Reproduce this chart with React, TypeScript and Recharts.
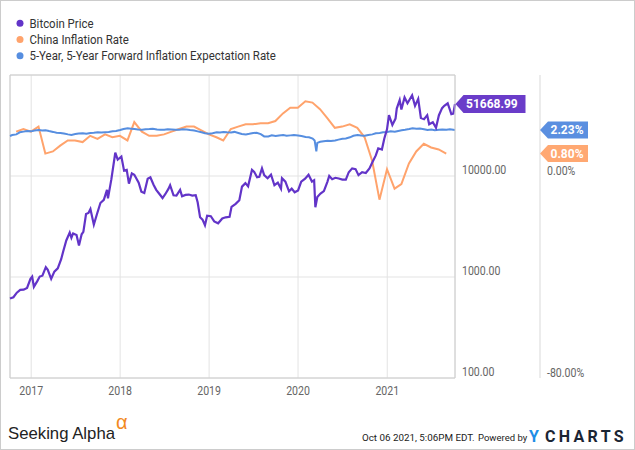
import React from 'react';
import { LineChart, Line, XAxis, YAxis, CartesianGrid, ReferenceLine } from 'recharts';

// Bitcoin price (USD), log scale
const btcPrices: [string, number][] = [
  ['2016-10-06', 612], ['2016-10-20', 630], ['2016-11-03', 700], ['2016-11-17', 745],
  ['2016-12-01', 750], ['2016-12-15', 780], ['2016-12-29', 960], ['2017-01-05', 1010],
  ['2017-01-12', 800], ['2017-01-26', 910], ['2017-02-05', 1010], ['2017-02-16', 1030],
  ['2017-03-02', 1250], ['2017-03-10', 1180], ['2017-03-24', 960], ['2017-04-06', 1130],
  ['2017-04-20', 1220], ['2017-05-04', 1500], ['2017-05-12', 1780], ['2017-05-25', 2300],
  ['2017-06-08', 2750], ['2017-06-15', 2450], ['2017-06-22', 2700], ['2017-07-06', 2600],
  ['2017-07-16', 2050], ['2017-07-27', 2650], ['2017-08-03', 2800], ['2017-08-14', 4200],
  ['2017-08-24', 4300], ['2017-09-01', 4700], ['2017-09-15', 3300], ['2017-09-28', 4200],
  ['2017-10-12', 5400], ['2017-10-26', 5800], ['2017-11-08', 7300], ['2017-11-12', 6000],
  ['2017-11-26', 9300], ['2017-12-12', 17000], ['2017-12-22', 14500], ['2018-01-06', 15600],
  ['2018-01-17', 11300], ['2018-01-28', 11500], ['2018-02-06', 8400], ['2018-02-18', 10600],
  ['2018-02-28', 10300], ['2018-03-08', 9500], ['2018-03-18', 8600], ['2018-03-29', 7000],
  ['2018-04-10', 6800], ['2018-04-24', 9400], ['2018-05-05', 9700], ['2018-05-18', 8200],
  ['2018-05-29', 7300], ['2018-06-12', 6600], ['2018-06-24', 6050], ['2018-07-05', 6600],
  ['2018-07-18', 7450], ['2018-07-25', 8100], ['2018-08-08', 6450], ['2018-08-20', 6400],
  ['2018-09-04', 7300], ['2018-09-12', 6300], ['2018-09-26', 6500], ['2018-10-10', 6550],
  ['2018-10-24', 6400], ['2018-11-07', 6450], ['2018-11-15', 5500], ['2018-11-25', 3900],
  ['2018-12-05', 3700], ['2018-12-15', 3250], ['2018-12-24', 4050], ['2019-01-08', 4000],
  ['2019-01-22', 3550], ['2019-02-07', 3400], ['2019-02-24', 3800], ['2019-03-10', 3900],
  ['2019-03-26', 3950], ['2019-04-03', 4950], ['2019-04-20', 5300], ['2019-05-05', 5750],
  ['2019-05-16', 7850], ['2019-05-30', 8500], ['2019-06-10', 7900], ['2019-06-26', 11500],
  ['2019-07-05', 11000], ['2019-07-17', 9700], ['2019-07-26', 9800], ['2019-08-06', 11900],
  ['2019-08-15', 10200], ['2019-08-29', 9500], ['2019-09-12', 10300], ['2019-09-26', 8100],
  ['2019-10-10', 8600], ['2019-10-23', 7500], ['2019-10-27', 9500], ['2019-11-10', 8800],
  ['2019-11-25', 7050], ['2019-12-06', 7500], ['2019-12-18', 6900], ['2020-01-01', 7200],
  ['2020-01-14', 8800], ['2020-01-30', 9400], ['2020-02-13', 10300], ['2020-02-27', 8800],
  ['2020-03-07', 9100], ['2020-03-12', 4900], ['2020-03-20', 6200], ['2020-04-02', 6700],
  ['2020-04-16', 7100], ['2020-04-30', 8700], ['2020-05-08', 10000], ['2020-05-20', 9300],
  ['2020-06-02', 9600], ['2020-06-16', 9450], ['2020-07-01', 9200], ['2020-07-15', 9200],
  ['2020-07-27', 10900], ['2020-08-10', 11900], ['2020-08-24', 11700], ['2020-09-05', 10200],
  ['2020-09-20', 10900], ['2020-10-05', 10700], ['2020-10-20', 11900], ['2020-11-01', 13700],
  ['2020-11-15', 16000], ['2020-11-25', 18800], ['2020-12-10', 18300], ['2020-12-20', 23500],
  ['2020-12-31', 29000], ['2021-01-08', 40000], ['2021-01-22', 32000], ['2021-02-04', 37000],
  ['2021-02-09', 46500], ['2021-02-21', 56500], ['2021-02-28', 45500], ['2021-03-13', 60000],
  ['2021-03-25', 52500], ['2021-04-13', 63000], ['2021-04-25', 49500], ['2021-05-08', 58000],
  ['2021-05-19', 37500], ['2021-06-01', 36500], ['2021-06-14', 40000], ['2021-06-22', 32500],
  ['2021-07-07', 34000], ['2021-07-20', 30000], ['2021-08-01', 40000], ['2021-08-14', 47000],
  ['2021-08-23', 49500], ['2021-09-06', 52500], ['2021-09-21', 41000], ['2021-09-29', 41500],
  ['2021-10-06', 51668.99],
];

// China CPI inflation, % YoY, month end
const chinaRates: [string, number][] = [
  ['2016-10-31', 2.1], ['2016-11-30', 2.3], ['2016-12-31', 2.1],
  ['2017-01-31', 2.5], ['2017-02-28', 0.8], ['2017-03-31', 0.9], ['2017-04-30', 1.2],
  ['2017-05-31', 1.5], ['2017-06-30', 1.5], ['2017-07-31', 1.4], ['2017-08-31', 1.8],
  ['2017-09-30', 1.6], ['2017-10-31', 1.9], ['2017-11-30', 1.7], ['2017-12-31', 1.8],
  ['2018-01-31', 1.5], ['2018-02-28', 2.9], ['2018-03-31', 2.1], ['2018-04-30', 1.8],
  ['2018-05-31', 1.8], ['2018-06-30', 1.9], ['2018-07-31', 2.1], ['2018-08-31', 2.3],
  ['2018-09-30', 2.5], ['2018-10-31', 2.5], ['2018-11-30', 2.2], ['2018-12-31', 1.9],
  ['2019-01-31', 1.7], ['2019-02-28', 1.5], ['2019-03-31', 2.3], ['2019-04-30', 2.5],
  ['2019-05-31', 2.7], ['2019-06-30', 2.7], ['2019-07-31', 2.8], ['2019-08-31', 2.8],
  ['2019-09-30', 3.0], ['2019-10-31', 3.8], ['2019-11-30', 4.5], ['2019-12-31', 4.5],
  ['2020-01-31', 5.4], ['2020-02-29', 5.2], ['2020-03-31', 4.3], ['2020-04-30', 3.3],
  ['2020-05-31', 2.4], ['2020-06-30', 2.5], ['2020-07-31', 2.7], ['2020-08-31', 2.4],
  ['2020-09-30', 1.7], ['2020-10-31', 0.5], ['2020-11-30', -0.5], ['2020-12-31', 0.2],
  ['2021-01-31', -0.3], ['2021-02-28', -0.2], ['2021-03-31', 0.4], ['2021-04-30', 0.9],
  ['2021-05-31', 1.3], ['2021-06-30', 1.1], ['2021-07-31', 1.0], ['2021-08-31', 0.8],
];

// 5-Year, 5-Year Forward Inflation Expectation Rate, %
const fwdRates: [string, number][] = [
  ['2016-10-06', 1.79], ['2016-10-15', 1.85], ['2016-11-01', 1.9], ['2016-11-15', 2.05],
  ['2016-12-01', 2.1], ['2016-12-15', 2.15], ['2017-01-01', 2.12], ['2017-01-15', 2.18],
  ['2017-02-01', 2.22], ['2017-02-15', 2.18], ['2017-03-01', 2.2], ['2017-03-15', 2.14],
  ['2017-04-01', 2.08], ['2017-04-15', 2.02], ['2017-05-01', 2.0], ['2017-05-15', 1.96],
  ['2017-06-01', 1.9], ['2017-06-15', 1.86], ['2017-07-01', 1.92], ['2017-07-15', 1.96],
  ['2017-08-01', 1.98], ['2017-08-15', 1.95], ['2017-09-01', 2.0], ['2017-09-15', 2.02],
  ['2017-10-01', 2.05], ['2017-10-15', 2.03], ['2017-11-01', 2.06], ['2017-11-15', 2.08],
  ['2017-12-01', 2.12], ['2017-12-15', 2.15], ['2018-01-01', 2.22], ['2018-01-15', 2.3],
  ['2018-02-01', 2.36], ['2018-02-15', 2.33], ['2018-03-01', 2.3], ['2018-03-15', 2.27],
  ['2018-04-01', 2.25], ['2018-04-15', 2.28], ['2018-05-01', 2.3], ['2018-05-15', 2.33],
  ['2018-06-01', 2.27], ['2018-06-15', 2.25], ['2018-07-01', 2.24], ['2018-07-15', 2.28],
  ['2018-08-01', 2.27], ['2018-08-15', 2.24], ['2018-09-01', 2.25], ['2018-09-15', 2.28],
  ['2018-10-01', 2.27], ['2018-10-15', 2.22], ['2018-11-01', 2.18], ['2018-11-15', 2.12],
  ['2018-12-01', 2.05], ['2018-12-15', 1.98], ['2019-01-01', 1.95], ['2019-01-15', 1.98],
  ['2019-02-01', 2.05], ['2019-02-15', 2.03], ['2019-03-01', 2.08], ['2019-03-15', 2.05],
  ['2019-04-01', 2.03], ['2019-04-15', 2.08], ['2019-05-01', 2.0], ['2019-05-15', 1.93],
  ['2019-06-01', 1.9], ['2019-06-15', 1.94], ['2019-07-01', 2.0], ['2019-07-15', 2.02],
  ['2019-08-01', 1.92], ['2019-08-15', 1.76], ['2019-09-01', 1.75], ['2019-09-15', 1.83],
  ['2019-10-01', 1.78], ['2019-10-15', 1.82], ['2019-11-01', 1.85], ['2019-11-15', 1.8],
  ['2019-12-01', 1.83], ['2019-12-15', 1.85], ['2020-01-01', 1.82], ['2020-01-15', 1.78],
  ['2020-02-01', 1.72], ['2020-02-15', 1.7], ['2020-03-01', 1.62], ['2020-03-09', 1.5],
  ['2020-03-16', 0.9], ['2020-03-20', 1.35], ['2020-04-01', 1.42], ['2020-04-15', 1.45],
  ['2020-05-01', 1.48], ['2020-05-15', 1.46], ['2020-06-01', 1.5], ['2020-06-15', 1.55],
  ['2020-07-01', 1.6], ['2020-07-15', 1.62], ['2020-08-01', 1.7], ['2020-08-15', 1.8],
  ['2020-09-01', 1.85], ['2020-09-15', 1.82], ['2020-10-01', 1.8], ['2020-10-15', 1.86],
  ['2020-11-01', 1.9], ['2020-11-15', 1.98], ['2020-12-01', 2.0], ['2020-12-15', 2.05],
  ['2021-01-01', 2.08], ['2021-01-15', 2.12], ['2021-02-01', 2.1], ['2021-02-15', 2.15],
  ['2021-03-01', 2.2], ['2021-03-15', 2.24], ['2021-04-01', 2.3], ['2021-04-15', 2.36],
  ['2021-05-01', 2.33], ['2021-05-15', 2.35], ['2021-06-01', 2.28], ['2021-06-15', 2.22],
  ['2021-07-01', 2.26], ['2021-07-15', 2.2], ['2021-08-01', 2.24], ['2021-08-15', 2.27],
  ['2021-09-01', 2.25], ['2021-09-15', 2.28], ['2021-10-06', 2.23],
];

const yearTicks = ['2017', '2018', '2019', '2020', '2021'];
const btcTicks = [100, 1000, 10000];
const pctTickLabels = ['-80.00%', '0.00%'];

const seriesNames = ['Bitcoin Price', 'China Inflation Rate', '5-Year, 5-Year Forward Inflation Expectation Rate'];
const seriesColors = ['#6234c8', '#ffa36c', '#568ee0'];
const tagColors = ['#6a3cc9', '#ffa872', '#5a8fe0'];
const tagLabels = ['51668.99', '0.80%', '2.23%'];

const START = Date.parse('2016-10-06');
const END = Date.parse('2021-10-06');
// percent axis is log of (rate + shift)
const PCT_SHIFT = 1.2;
const pctTickValues = [PCT_SHIFT / 100, PCT_SHIFT];

const W = 635;
const H = 450;
const BTC_AXIS_W = 85;
const PCT_AXIS_W = 95;
const PLOT_RIGHT = W - BTC_AXIS_W - PCT_AXIS_W;
const COND = 0.88;
const FONT = 'Roboto, "Noto Sans", sans-serif';

const toRows = (pairs: [string, number][]) => pairs.map(([d, v]) => ({ t: Date.parse(d), v }));
const btcRows = toRows(btcPrices);
const chinaRows = toRows(chinaRates);
const fwdRows = toRows(fwdRates);

const CondText = ({ x, y, anchor = 'start', size = 12, fill = '#666', children }: any) => (
  <text
    transform={`translate(${x},${y}) scale(${COND},1)`}
    textAnchor={anchor}
    fontSize={size}
    fontFamily={FONT}
    fill={fill}
  >
    {children}
  </text>
);

const XTick = ({ x, y, payload }: any) => (
  <CondText x={x} y={y + 16.5} anchor="middle">
    {String(new Date(payload.value).getUTCFullYear())}
  </CondText>
);

const BtcTick = ({ x, y, payload }: any) => (
  <CondText x={x} y={y - 2}>{Number(payload.value).toFixed(2)}</CondText>
);

const PctTick = ({ x, y, payload, index }: any) => {
  let i = pctTickValues.indexOf(payload.value);
  if (i < 0) i = index;
  return <CondText x={x} y={y - 1}>{pctTickLabels[i]}</CondText>;
};

// draws the value tag next to the last point of a series
const tagDot = (label: string, color: string, lastIndex: number, tipX: number | null, boxW: number, h: number) =>
  (props: any) => {
    const { cx, cy, index } = props;
    if (index !== lastIndex) return <g key={`d-${index}`} />;
    const tip = tipX == null ? cx : tipX;
    const half = h / 2;
    const pts = [
      [tip, cy],
      [tip + 8, cy - half],
      [tip + 8 + boxW, cy - half],
      [tip + 8 + boxW, cy + half],
      [tip + 8, cy + half],
    ]
      .map((p) => p.join(','))
      .join(' ');
    return (
      <g key={`d-${index}`}>
        <polygon points={pts} fill={color} />
        <text x={tip + 10.5} y={cy + 4.3} fontSize={12} fontWeight={700} fontFamily={FONT} fill="#fff">
          {label}
        </text>
      </g>
    );
  };

export default function App() {
  return (
    <div style={{ position: 'absolute', left: 0, top: 0, width: W, height: H, background: '#fff' }}>
      <LineChart width={W} height={H} margin={{ top: 75, right: 0, bottom: 42, left: 10 }}>
        <CartesianGrid yAxisId="btc" stroke="#e3e3e3" />
        <XAxis
          type="number"
          dataKey="t"
          domain={[START, END]}
          ticks={yearTicks.map((y) => Date.parse(`${y}-01-01`))}
          interval={0}
          height={30}
          tickLine={false}
          tickSize={0}
          tickMargin={0}
          axisLine={{ stroke: '#cccccc' }}
          tick={XTick}
        />
        <YAxis
          yAxisId="btc"
          orientation="right"
          type="number"
          scale="log"
          domain={[100, 100000]}
          ticks={btcTicks}
          interval={0}
          width={BTC_AXIS_W}
          tickLine={false}
          tickSize={0}
          tickMargin={7}
          axisLine={{ stroke: '#cccccc' }}
          tick={BtcTick}
        />
        <YAxis
          yAxisId="pct"
          orientation="right"
          type="number"
          scale="log"
          domain={[PCT_SHIFT / 100, PCT_SHIFT * 10]}
          ticks={pctTickValues}
          interval={0}
          width={PCT_AXIS_W}
          tickLine={false}
          tickSize={0}
          tickMargin={7}
          axisLine={{ stroke: '#d9d9d9' }}
          tick={PctTick}
        />
        <ReferenceLine yAxisId="btc" x={START} stroke="#cccccc" />
        <ReferenceLine yAxisId="btc" y={100000} stroke="#cccccc" />
        <Line
          yAxisId="pct"
          data={chinaRows}
          dataKey={(d: any) => d.v + PCT_SHIFT}
          type="linear"
          stroke={seriesColors[1]}
          strokeWidth={2}
          dot={tagDot(tagLabels[1], tagColors[1], chinaRows.length - 1, PLOT_RIGHT + BTC_AXIS_W, 40, 17)}
          activeDot={false}
          isAnimationActive={false}
        />
        <Line
          yAxisId="pct"
          data={fwdRows}
          dataKey={(d: any) => d.v + PCT_SHIFT}
          type="linear"
          stroke={seriesColors[2]}
          strokeWidth={2}
          dot={tagDot(tagLabels[2], tagColors[2], fwdRows.length - 1, PLOT_RIGHT + BTC_AXIS_W, 40, 17)}
          activeDot={false}
          isAnimationActive={false}
        />
        <Line
          yAxisId="btc"
          data={btcRows}
          dataKey="v"
          type="linear"
          stroke={seriesColors[0]}
          strokeWidth={2.2}
          dot={tagDot(tagLabels[0], tagColors[0], btcRows.length - 1, PLOT_RIGHT + 0.5, 62, 18)}
          activeDot={false}
          isAnimationActive={false}
        />
      </LineChart>

      <svg width={W} height={H} style={{ position: 'absolute', left: 0, top: 0, pointerEvents: 'none' }}>
        <rect x={0.5} y={0.5} width={W - 1} height={H - 1} fill="none" stroke="#cccccc" />
        {seriesNames.map((name, i) => (
          <g key={name}>
            <circle cx={20} cy={23.3 + i * 16.2} r={3.5} fill={seriesColors[i]} />
            <CondText x={29.5} y={27.5 + i * 16.4} size={13} fill="#333">
              {name}
            </CondText>
          </g>
        ))}
        <text x={8} y={439} fontSize={17} fontFamily='"Liberation Sans", Arial, sans-serif' fill="#222" textLength={107} lengthAdjust="spacingAndGlyphs">
          Seeking Alpha
        </text>
        <text x={116} y={429} fontSize={20} fontFamily='"Liberation Sans", Arial, sans-serif' fill="#f28a1e">
          α
        </text>
        <text x={362} y={440.5} fontSize={9.8} fontFamily={FONT} fill="#222">
          Oct 06 2021, 5:06PM EDT.
        </text>
        <text x={478} y={440.5} fontSize={9.5} fontFamily={FONT} fill="#222">
          Powered by
        </text>
        <text x={529} y={442} fontSize={16} fontWeight={700} fontFamily={FONT} fill="#1e8ee6">
          Y
        </text>
        <text x={545} y={442} fontSize={16} fontWeight={700} fontFamily={FONT} fill="#1b2534" letterSpacing={3.3}>
          CHARTS
        </text>
      </svg>
    </div>
  );
}
